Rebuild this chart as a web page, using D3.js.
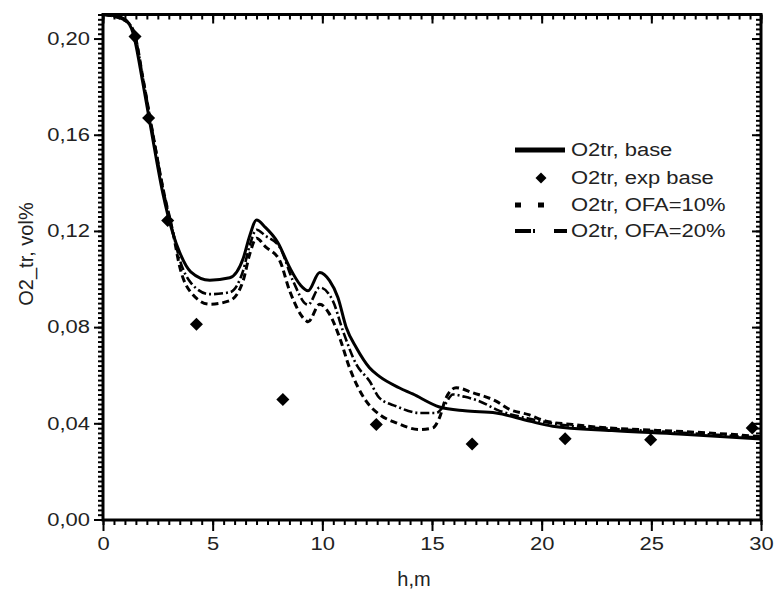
<!DOCTYPE html>
<html>
<head>
<meta charset="utf-8">
<script src="https://cdn.jsdelivr.net/npm/d3@7"></script>
<style>
  body { margin: 0; background: #fff; }
  text { font-family: "Liberation Sans", Arial, sans-serif; fill: #222; }
</style>
</head>
<body>
<div id="chart"></div>
<script>
// O2tr, base (solid)
var baseH = [0, 0.5, 1.0, 1.37, 1.82, 2.28, 2.73, 3.19, 3.5, 4.0, 4.87, 5.78, 6.39, 6.69, 7.0, 7.4, 7.97, 8.51, 9.0, 9.35, 9.88, 10.33, 10.71, 11.09, 11.55, 12.15, 12.6, 13.5, 14.12, 15.34, 16.5, 17.92, 19.44, 20.5, 23.2, 26.26, 30];
var baseV = [0.210, 0.2095, 0.208, 0.2023, 0.1814, 0.1577, 0.1356, 0.1189, 0.111, 0.103, 0.0995, 0.1005, 0.1085, 0.118, 0.1245, 0.1215, 0.1152, 0.1048, 0.0975, 0.0951, 0.1027, 0.0993, 0.0923, 0.0798, 0.0714, 0.0631, 0.0595, 0.0548, 0.0522, 0.0468, 0.0452, 0.0443, 0.0409, 0.0388, 0.037, 0.0356, 0.0335];

// O2tr, OFA=10% (dashed)
var ofa10H = [0, 1.0, 1.4, 1.85, 2.3, 2.75, 3.2, 3.5, 4.0, 4.87, 5.78, 6.39, 6.69, 7.0, 7.4, 8.06, 8.51, 9.27, 9.35, 9.88, 10.33, 10.79, 11.24, 12.0, 12.6, 13.37, 14.43, 15.03, 15.34, 15.64, 16.1, 16.86, 17.92, 18.53, 19.4, 20.2, 21.4, 23.0, 24.5, 26.1, 27.6, 30];
var ofa10V = [0.210, 0.2075, 0.203, 0.182, 0.159, 0.137, 0.119, 0.105, 0.0945, 0.0895, 0.091, 0.0993, 0.1104, 0.117, 0.1135, 0.1076, 0.0951, 0.0826, 0.0822, 0.0895, 0.0854, 0.0756, 0.0631, 0.0492, 0.0437, 0.0402, 0.0374, 0.0381, 0.0423, 0.0506, 0.0548, 0.0527, 0.0492, 0.0458, 0.0436, 0.0409, 0.0395, 0.0381, 0.0374, 0.0367, 0.036, 0.0345];

// O2tr, OFA=20% (dash-dot)
var ofa20H = [0, 1.0, 1.4, 1.85, 2.3, 2.75, 3.2, 3.5, 4.0, 4.87, 5.78, 6.39, 6.69, 7.0, 7.4, 8.06, 8.66, 9.27, 9.35, 9.88, 10.48, 10.94, 11.55, 12.15, 12.6, 13.37, 14.43, 15.19, 15.6, 15.95, 16.5, 17.16, 18.0, 19.4, 21.0, 23.0, 25.0, 27.5, 30];
var ofa20V = [0.210, 0.2075, 0.203, 0.182, 0.159, 0.137, 0.119, 0.108, 0.0985, 0.0937, 0.0945, 0.1035, 0.114, 0.1205, 0.118, 0.1132, 0.0993, 0.0895, 0.0893, 0.0965, 0.0909, 0.0784, 0.0645, 0.0576, 0.0506, 0.0471, 0.0443, 0.0443, 0.048, 0.052, 0.051, 0.0492, 0.0455, 0.042, 0.0393, 0.0378, 0.0368, 0.0355, 0.034];

// O2tr, exp base (diamonds)
var expH = [1.46, 2.08, 2.95, 4.26, 8.2, 12.46, 16.83, 21.07, 24.97, 29.6];
var expV = [0.2008, 0.167, 0.1243, 0.0812, 0.0499, 0.0395, 0.0314, 0.0336, 0.0332, 0.0381];

var xTicks = [0, 5, 10, 15, 20, 25, 30];
var yTicks = [0, 0.04, 0.08, 0.12, 0.16, 0.20];
var legendLabels = ["O2tr, base", "O2tr, exp base", "O2tr, OFA=10%", "O2tr, OFA=20%"];

var width = 777, height = 594;
var svg = d3.select("#chart").append("svg")
            .attr("width", width)
            .attr("height", height);

var x = d3.scaleLinear().domain([0, 30]).range([103, 761]);
var y = d3.scaleLinear().domain([0, 0.21]).range([519.5, 14.5]);

var comma = function (d) { return d3.format(".2f")(d).replace(".", ","); };
var xMinor = d3.range(0, 30.01, 0.5);
var yMinor = d3.range(0, 105).map(function (i) { return i * 0.002; }).concat([0.21]);

// minor ticks
svg.append("g").attr("transform", "translate(0,520)")
   .call(d3.axisBottom(x).tickValues(xMinor).tickSize(5).tickFormat(""));
svg.append("g").attr("transform", "translate(0,14.5)")
   .call(d3.axisTop(x).tickValues(xMinor).tickSize(-5).tickFormat(""));
svg.append("g").attr("transform", "translate(103,0)")
   .call(d3.axisLeft(y).tickValues(yMinor).tickSize(5).tickFormat(""));
svg.append("g").attr("transform", "translate(761,0)")
   .call(d3.axisRight(y).tickValues(yMinor).tickSize(-5).tickFormat(""));

// major ticks with labels
svg.append("g").attr("class", "lab").attr("transform", "translate(0,520)")
   .call(d3.axisBottom(x).tickValues(xTicks).tickSize(11).tickPadding(6).tickFormat(d3.format("d")));
svg.append("g").attr("transform", "translate(0,14.5)")
   .call(d3.axisTop(x).tickValues(xTicks).tickSize(-9).tickFormat(""));
svg.append("g").attr("class", "lab").attr("transform", "translate(103,0)")
   .call(d3.axisLeft(y).tickValues(yTicks).tickSize(9).tickPadding(4).tickFormat(comma));
svg.append("g").attr("transform", "translate(761,0)")
   .call(d3.axisRight(y).tickValues(yTicks).tickSize(-9).tickFormat(""));

svg.selectAll(".domain").remove();
svg.selectAll(".tick line").attr("stroke", "#000").attr("stroke-width", 2);
svg.selectAll(".lab text").style("font-size", "18px").attr("fill", "#222");

// frame
svg.append("rect")
   .attr("x", x(0)).attr("y", y(0.21))
   .attr("width", x(30) - x(0)).attr("height", 520 - y(0.21))
   .attr("fill", "none").attr("stroke", "#000").attr("stroke-width", 3);

// axis titles
svg.append("text").attr("x", 414).attr("y", 586)
   .attr("text-anchor", "middle").style("font-size", "20px").text("h,m");
svg.append("text").attr("transform", "translate(33,254) rotate(-90)")
   .attr("text-anchor", "middle").style("font-size", "20px").text("O2_tr, vol%");

// curves
svg.append("clipPath").attr("id", "clip").append("rect")
   .attr("x", x(0)).attr("y", y(0.21)).attr("width", x(30) - x(0)).attr("height", 520 - y(0.21));

var line = d3.line()
             .x(function (d) { return x(d[0]); })
             .y(function (d) { return y(d[1]); })
             .curve(d3.curveMonotoneX);

var plot = svg.append("g").attr("clip-path", "url(#clip)");

plot.append("path").attr("d", line(d3.zip(ofa10H, ofa10V)))
    .attr("fill", "none").attr("stroke", "#000").attr("stroke-width", 3)
    .attr("stroke-dasharray", "7,4");
plot.append("path").attr("d", line(d3.zip(ofa20H, ofa20V)))
    .attr("fill", "none").attr("stroke", "#000").attr("stroke-width", 2.6)
    .attr("stroke-dasharray", "9,3,2,3");
plot.append("path").attr("d", line(d3.zip(baseH, baseV)))
    .attr("fill", "none").attr("stroke", "#000").attr("stroke-width", 3);

plot.selectAll(".exp")
    .data(d3.zip(expH, expV))
    .enter()
    .append("path")
    .attr("class", "exp")
    .attr("d", d3.symbol().type(d3.symbolSquare).size(85))
    .attr("transform", function (d) { return "translate(" + x(d[0]) + "," + y(d[1]) + ") rotate(45)"; })
    .attr("fill", "#000");

// legend
var legRows = [150, 178, 205, 231];
var leg = svg.append("g");
leg.append("line").attr("x1", 515).attr("x2", 565).attr("y1", legRows[0]).attr("y2", legRows[0])
   .attr("stroke", "#000").attr("stroke-width", 5);
leg.append("path")
   .attr("d", d3.symbol().type(d3.symbolSquare).size(60))
   .attr("transform", "translate(541," + legRows[1] + ") rotate(45)");
leg.append("line").attr("x1", 515).attr("x2", 546).attr("y1", legRows[2]).attr("y2", legRows[2])
   .attr("stroke", "#000").attr("stroke-width", 5).attr("stroke-dasharray", "6,17");
leg.append("line").attr("x1", 515).attr("x2", 567).attr("y1", legRows[3]).attr("y2", legRows[3])
   .attr("stroke", "#000").attr("stroke-width", 4).attr("stroke-dasharray", "16,2,2,19");
leg.selectAll("text")
   .data(legendLabels)
   .enter()
   .append("text")
   .attr("x", 571)
   .attr("y", function (d, i) { return legRows[i] + 6; })
   .style("font-size", "18px")
   .text(function (d) { return d; });

// the source image is stretched sideways a little
svg.selectAll(".lab text").each(function () {
    var len = this.getComputedTextLength();
    d3.select(this).attr("textLength", len * 1.22).attr("lengthAdjust", "spacingAndGlyphs");
});
leg.selectAll("text").each(function () {
    var len = this.getComputedTextLength();
    d3.select(this).attr("textLength", len * 1.22).attr("lengthAdjust", "spacingAndGlyphs");
});
</script>
</body>
</html>
